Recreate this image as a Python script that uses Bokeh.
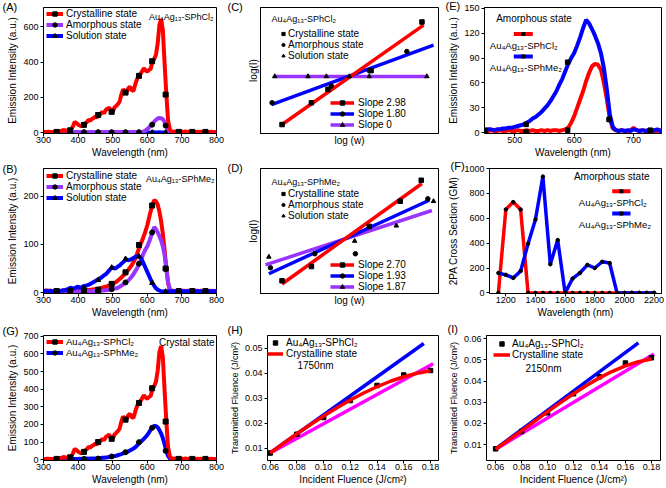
from bokeh.plotting import figure
from bokeh.models import (Range1d, Legend, LegendItem, Label, BoxAnnotation,
                          FixedTicker, PrintfTickFormatter)
from bokeh.layouts import column, row
from bokeh.embed import file_html
from bokeh.resources import INLINE

FONT = "Liberation Sans"
RED = "#ff0000"
BLUE = "#0000ff"
PURPLE = "#9933ff"
MAGENTA = "#ff00ff"
CL = "Au\u2084Ag\u2081\u2083-SPhCl\u2082"
ME = "Au\u2084Ag\u2081\u2083-SPhMe\u2082"

# ---------------- emission spectra (300-800 nm, 5 nm sampling) ----------------
WL = list(range(300, 805, 5))
A_CRY = [3, 4, 3, 5, 4, 3, 4, 5, 6, 8, 9, 12,
         15, 10, 12, 14, 18, 35, 60, 55,
         45, 40, 36, 46, 52, 58, 72, 68, 78, 82,
         92, 86, 102, 106, 118, 110, 128, 136, 142, 122,
         118, 142, 152, 162, 176, 216, 246, 232, 228, 252,
         260, 242, 236, 272, 302, 322, 332, 348, 366, 352,
         346, 356, 362, 405, 418, 442, 505, 612, 645, 580,
         392, 218, 70, 20, 7, 5, 6, 4, 5, 4,
         5, 4, 6, 4, 5, 4, 3, 5, 4, 5,
         4, 5, 4, 3, 5, 4, 4, 5, 3, 4, 4]
A_AMOR = [2, 3, 2, 2, 3, 2, 2, 3, 2, 2, 3, 2, 2, 3, 2, 2, 3, 2, 2, 3,
          2, 2, 3, 2, 2, 3, 2, 2, 3, 2, 2, 2, 3, 2, 2, 3, 2, 2, 3, 2,
          2, 3, 2, 2, 3, 2, 3, 2, 2, 3, 2, 3, 2, 3, 3, 2,
          3, 4, 6, 12, 20, 30, 40, 50, 62, 72,
          80, 83, 82, 76, 60, 40, 17, 5, 3, 2,
          3, 2, 2, 3, 6, 3, 2, 3, 2, 2, 3, 2, 2, 3, 2, 2, 3, 2, 2, 3, 2, 2, 3, 2, 2]
A_SOL = [1, 2, 1, 1, 2, 1, 1, 1, 2, 1, 1, 2, 1, 1, 1, 2, 1, 1, 2, 1,
         1, 1, 2, 1, 1, 2, 1, 1, 1, 2, 1, 1, 2, 1, 1, 1, 2, 1, 1, 2,
         1, 1, 1, 2, 1, 1, 2, 1, 1, 1, 2, 1, 1, 2, 1, 1, 1, 2, 1, 1,
         2, 1, 1, 1, 2, 1, 1, 2, 1, 1, 1, 2, 1, 1, 2, 1, 1, 1, 2, 1,
         1, 2, 1, 1, 1, 2, 1, 1, 2, 1, 1, 1, 2, 1, 1, 2, 1, 1, 1, 2, 1]
B_CRY = [4, 3, 5, 3, 4, 3, 4, 5, 3, 4, 3, 4, 5, 3, 4, 4, 3, 5, 4, 3,
         4, 5, 4, 5, 5, 6, 5, 6, 6, 7, 6, 7, 8, 9, 10, 11, 12, 13, 15, 16,
         18, 20, 22, 25, 28, 31, 35, 38, 42, 47, 52, 57, 63, 70, 80, 90, 100, 108, 118, 128,
         140, 155, 170, 182, 192, 190, 183, 168, 148, 122, 88, 50, 20, 7, 3, 4, 3, 4, 3, 4,
         3, 4, 3, 4, 3, 5, 3, 4, 3, 4, 3, 4, 3, 4, 5, 3, 4, 3, 4, 3, 4]
B_AMOR = [3, 2, 3, 2, 3, 2, 3, 3, 2, 3, 2, 3, 2, 3, 3, 2, 3, 2, 3, 2,
          2, 3, 2, 3, 2, 3, 3, 2, 3, 3, 3, 4, 4, 3, 4, 4, 5, 5, 6, 6,
          7, 8, 9, 10, 12, 14, 17, 19, 22, 25, 29, 33, 38, 44, 50, 58, 65, 74, 83, 90,
          96, 105, 115, 126, 136, 132, 125, 117, 108, 96, 78, 52, 22, 7, 3, 2, 3, 2, 3, 2,
          4, 3, 2, 3, 2, 3, 2, 3, 4, 2, 3, 2, 3, 2, 3, 2, 3, 2, 3, 3, 2]
B_SOL = [3, 4, 3, 2, 4, 3, 2, 3, 3, 4, 3, 5, 4, 6, 7, 9, 10, 8, 9, 11,
         12, 10, 11, 13, 14, 15, 16, 18, 20, 22, 24, 26, 28, 30, 33, 36, 38, 42, 46, 50,
         52, 50, 51, 54, 56, 60, 63, 66, 69, 67, 68, 70, 72, 74, 75, 76, 73, 67, 59, 51,
         43, 35, 27, 20, 14, 9, 6, 4, 3, 2, 3, 2, 3, 2, 3, 2, 3, 2, 3, 2,
         3, 2, 3, 2, 3, 2, 3, 4, 2, 3, 2, 3, 2, 3, 2, 3, 2, 3, 2, 3, 2]

# symbols drawn on the spectra
MK = [338, 377, 417, 458, 497, 537, 576, 614, 653, 691, 730, 768]
A_CRY_MK = [4, 13, 44, 100, 118, 227, 322, 405, 216, 4, 4, 4]
A_AMOR_MK = [2, 2, 2, 2, 2, 2, 2, 45, 40, 2, 2, 2]
A_SOL_MK = [1, 1, 1, 1, 1, 1, 1, 1, 1, 1, 1, 1]
B_CRY_MK = [3, 3, 4, 6, 18, 42, 99, 181, 50, 3, 3, 3]
B_AMOR_MK = [2, 2, 2, 3, 7, 21, 60, 125, 49, 2, 2, 2]
B_SOL_MK = [3, 5, 10, 26, 52, 70, 75, 20, 2, 2, 2, 2]
E_MK = [450, 519, 589, 659, 728]
E_CL_MK = [2, 1, 3, 16, 2]
E_ME_MK = [3, 10, 85, 16, 3]

# ---------------- log-log power dependence (arbitrary units) ----------------
C_CRY_X = [1.21, 2.86, 3.79, 6.21, 9.07]
C_CRY_Y = [0.71, 2.44, 3.51, 4.99, 8.85]
C_CRY_FX = [1.21, 9.16]
C_CRY_FY = [0.71, 8.60]
C_AMO_X = [0.65, 3.98, 6.11, 8.22]
C_AMO_Y = [2.44, 3.77, 4.99, 6.51]
C_AMO_FX = [0.62, 9.72]
C_AMO_FY = [2.29, 7.02]
C_SOL_X = [0.80, 2.67, 3.70, 4.99, 6.11, 9.35]
C_SOL_Y = [4.53, 4.53, 4.53, 4.53, 4.53, 4.53]
C_SOL_FX = [0.80, 9.35]
C_SOL_FY = [4.53, 4.53]
C_SLOPES = ["Slope 2.98", "Slope 1.80", "Slope 0"]

D_CRY_X = [1.21, 2.86, 6.11, 7.85, 9.03]
D_CRY_Y = [1.02, 2.16, 5.37, 7.38, 9.06]
D_CRY_FX = [1.21, 9.07]
D_CRY_FY = [0.76, 8.80]
D_AMO_X = [0.56, 3.05, 5.33, 7.81, 9.40]
D_AMO_Y = [2.06, 3.18, 3.18, 7.38, 7.58]
D_AMO_FX = [0.47, 9.48]
D_AMO_FY = [1.58, 7.46]
D_SOL_X = [0.47, 5.29, 7.63, 9.72]
D_SOL_Y = [2.93, 4.20, 5.42, 7.38]
D_SOL_FX = [0.28, 9.63]
D_SOL_FY = [2.29, 6.64]
D_SLOPES = ["Slope 2.70", "Slope 1.93", "Slope 1.87"]

# ---------------- 2PA cross sections ----------------
F_X = [1150, 1200, 1250, 1300, 1350, 1400, 1450, 1500, 1550, 1600, 1650,
       1700, 1750, 1800, 1850, 1900, 1950, 2000, 2050, 2100, 2150, 2200]
F_CL = [0, 670, 730, 670, 0, 0, 0, 0, 0, 0, 0, 0, 0, 0, 0, 0, 0, 0, 0, 0, 0, 0]
F_ME = [160, 145, 120, 175, 395, 590, 935, 230, 425, 0, 115,
        160, 225, 200, 250, 240, 0, 0, 0, 0, 0, 0]

# ---------------- optical limiting ----------------
OL_X = [0.06, 0.08, 0.10, 0.12, 0.14, 0.16, 0.18]
FIT_X = [0.06, 0.07, 0.08, 0.09, 0.10, 0.11, 0.12, 0.13, 0.14, 0.15, 0.16, 0.17, 0.18]
H_Y = [0.0080, 0.0155, 0.0222, 0.0290, 0.0350, 0.0392, 0.0410]
H_FIT = [0.0080, 0.0119, 0.0157, 0.0193, 0.0228, 0.0261, 0.0292, 0.0320, 0.0345,
         0.0367, 0.0385, 0.0399, 0.0409]
H_LIN_X = [0.06, 0.175]
H_LIN_Y = [0.008, 0.0518]
H_REF_X = [0.06, 0.182]
H_REF_Y = [0.008, 0.0437]
I_Y = [0.0080, 0.0162, 0.0250, 0.0340, 0.0420, 0.0485, 0.0510]
I_FIT = [0.0078, 0.0122, 0.0165, 0.0210, 0.0255, 0.0298, 0.0340, 0.0379, 0.0415,
         0.0446, 0.0472, 0.0491, 0.0504]
I_LIN_X = [0.06, 0.17]
I_LIN_Y = [0.008, 0.058]
I_REF_X = [0.06, 0.182]
I_REF_Y = [0.0078, 0.0528]

WL_TICKS = [300, 400, 500, 600, 700, 800]
FL_TICKS = [0.06, 0.08, 0.10, 0.12, 0.14, 0.16, 0.18]

ROW_H = 11.5
FRAME = {}


def base(w, h, xr, yr, bl, br, bt, bb, xlabel, ylabel, xticks, yticks, fmt=None,
         ylab_size="10px"):
    p = figure(width=w, height=h, x_range=Range1d(*xr), y_range=Range1d(*yr),
               output_backend="svg", toolbar_location=None,
               min_border_left=bl, min_border_right=br,
               min_border_top=bt, min_border_bottom=bb)
    p.grid.visible = False
    p.outline_line_color = "black"
    p.outline_line_alpha = 1.0
    p.outline_line_width = 1
    p.background_fill_color = "white"
    p.border_fill_color = "white"
    p.xaxis.axis_label = xlabel
    p.yaxis.axis_label = ylabel
    for ax in (p.xaxis[0], p.yaxis[0]):
        ax.axis_line_color = "black"
        ax.major_tick_line_color = "black"
        ax.major_tick_out = 3 if (xticks or yticks) else 0
        ax.major_tick_in = 0
        ax.minor_tick_line_color = None
        ax.major_label_text_font = FONT
        ax.major_label_text_font_size = "9px"
        ax.major_label_text_color = "black"
        ax.axis_label_text_font = FONT
        ax.axis_label_text_font_size = "10px"
        ax.axis_label_text_font_style = "normal"
        ax.axis_label_text_color = "black"
    p.yaxis.axis_label_text_font_size = ylab_size
    p.xaxis.major_label_standoff = 0
    p.xaxis.axis_label_standoff = 1
    p.yaxis.major_label_standoff = 2
    p.yaxis.axis_label_standoff = 2
    p.xaxis.ticker = FixedTicker(ticks=xticks)
    p.yaxis.ticker = FixedTicker(ticks=yticks)
    if fmt:
        p.xaxis.formatter = PrintfTickFormatter(format=fmt)
        p.yaxis.formatter = PrintfTickFormatter(format=fmt)
    FRAME[p.id] = (w - bl - br, h - bt - bb)
    return p


def tag(p, text, dx, gap):
    # panel letter, drawn through the (otherwise empty) title slot;
    # its top sits about `gap` px above the frame
    t = p.title
    t.text = text
    t.align = "left"
    t.offset = dx
    t.vertical_align = "bottom"
    t.standoff = -2 * (8.6 - gap)
    t.text_font = FONT
    t.text_font_size = "11px"
    t.text_font_style = "normal"
    t.text_color = "black"


def note(p, text, side, dx, dy, align="left", size="10px"):
    x = p.x_range.start if side == "left" else p.x_range.end
    p.add_layout(Label(x=x, y=p.y_range.end, x_offset=dx, y_offset=dy, text=text,
                       text_font=FONT, text_font_size=size, text_baseline="middle",
                       text_align=align, text_color="black"))


def legend(p, items, left, top, glyph_w, standoff=3, size="10px"):
    vy = FRAME[p.id][1] - top - len(items) * ROW_H
    lg = Legend(items=[LegendItem(label=t, renderers=r) for t, r in items],
                location=(left, vy), border_line_color=None, background_fill_alpha=0,
                label_text_font=FONT, label_text_font_size=size, label_text_color="black",
                glyph_width=glyph_w, glyph_height=11, label_height=11,
                label_standoff=standoff, spacing=0, padding=0, margin=0)
    p.add_layout(lg)


def swatch(p, x0, x1, top, color):
    yc = FRAME[p.id][1] - top
    p.add_layout(BoxAnnotation(left=x0, right=x1, bottom=yc - 2, top=yc + 2,
                               left_units="screen", right_units="screen",
                               bottom_units="screen", top_units="screen",
                               fill_color=color, fill_alpha=1, line_color=None))
    xc = (x0 + x1) / 2
    p.add_layout(BoxAnnotation(left=xc - 2, right=xc + 2, bottom=yc - 2, top=yc + 2,
                               left_units="screen", right_units="screen",
                               bottom_units="screen", top_units="screen",
                               fill_color="black", fill_alpha=1, line_color=None))


LW = 4
SUB = "9px"

# ---------------- (A) ----------------
pA = base(225, 160, (300, 800), (-5, 710), 43, 9, 5, 26, "Wavelength (nm)",
          "Emission Intensity (a.u.)", WL_TICKS, [0, 200, 400, 600])
rA3 = pA.line(WL, A_SOL, color=BLUE, line_width=LW)
rA2 = pA.line(WL, A_AMOR, color=PURPLE, line_width=LW)
rA1 = pA.line(WL, A_CRY, color=RED, line_width=LW)
mA3 = pA.scatter(MK, A_SOL_MK, marker="triangle", size=5, color="black")
mA2 = pA.scatter(MK, A_AMOR_MK, marker="circle", size=5, color="black")
mA1 = pA.scatter(MK, A_CRY_MK, marker="square", size=5, color="black")
legend(pA, [("Crystalline state", [rA1, mA1]), ("Amorphous state", [rA2, mA2]),
            ("Solution state", [rA3, mA3])], 3, 2.5, 17)
tag(pA, "(A)", -41, 3)
note(pA, CL, "right", -3, -9, align="right", size=SUB)

# ---------------- (B) ----------------
pB = base(225, 160, (300, 800), (-2, 258), 43, 9, 5, 26, "Wavelength (nm)",
          "Emission Intensity (a.u.)", WL_TICKS, [0, 100, 200])
rB1 = pB.line(WL, B_CRY, color=RED, line_width=LW)
rB2 = pB.line(WL, B_AMOR, color=PURPLE, line_width=LW)
rB3 = pB.line(WL, B_SOL, color=BLUE, line_width=LW)
mB1 = pB.scatter(MK, B_CRY_MK, marker="square", size=5, color="black")
mB2 = pB.scatter(MK, B_AMOR_MK, marker="circle", size=5, color="black")
mB3 = pB.scatter(MK, B_SOL_MK, marker="triangle", size=5, color="black")
legend(pB, [("Crystalline state", [rB1, mB1]), ("Amorphous state", [rB2, mB2]),
            ("Solution state", [rB3, mB3])], 3, 4, 17)
tag(pB, "(B)", -41, 2)
note(pB, ME, "right", -2, -10, align="right", size=SUB)

# ---------------- (G) ----------------
pG = base(225, 168, (300, 800), (-5, 705), 43, 9, 10, 28, "Wavelength (nm)",
          "Emission Intensity (a.u.)", WL_TICKS, [0, 100, 200, 300, 400, 500, 600, 700])
rG2 = pG.line(WL, B_CRY, color=BLUE, line_width=LW)
rG1 = pG.line(WL, A_CRY, color=RED, line_width=LW)
mG2 = pG.scatter(MK, B_CRY_MK, marker="circle", size=5, color="black")
mG1 = pG.scatter(MK, A_CRY_MK, marker="square", size=5, color="black")
legend(pG, [(CL, [rG1, mG1]), (ME, [rG2, mG2])], 3, 5, 17, size="9.5px")
tag(pG, "(G)", -41, 7)
note(pG, "Crystal state", "right", -2, -7, align="right")

# ---------------- (C) ----------------
pC = base(220, 160, (0, 10), (0, 10), 35, 7, 5, 26, "log (w)", "log(I)", [], [])
lC3 = pC.line(C_SOL_FX, C_SOL_FY, color=PURPLE, line_width=3.5)
lC2 = pC.line(C_AMO_FX, C_AMO_FY, color=BLUE, line_width=3.5)
lC1 = pC.line(C_CRY_FX, C_CRY_FY, color=RED, line_width=3.5)
sC1 = pC.scatter(C_CRY_X, C_CRY_Y, marker="square", size=4.5, color="black")
sC2 = pC.scatter(C_AMO_X, C_AMO_Y, marker="circle", size=4.5, color="black")
sC3 = pC.scatter(C_SOL_X, C_SOL_Y, marker="triangle", size=4.5, color="black")
legend(pC, [("Crystalline state", [sC1]), ("Amorphous state", [sC2]),
            ("Solution state", [sC3])], 19, 22.5, 8, standoff=1)
hC = FRAME[pC.id][1]
legend(pC, [(C_SLOPES[0], [lC1, sC1]), (C_SLOPES[1], [lC2, sC2]),
            (C_SLOPES[2], [lC3, sC3])], 70, hC - 3 - 3 * ROW_H, 24, standoff=4)
tag(pC, "(C)", -33, 3)
note(pC, CL, "left", 11, -11.5, size=SUB)

# ---------------- (D) ----------------
pD = base(220, 160, (0, 10), (0, 10), 35, 7, 5, 26, "log (w)", "log(I)", [], [])
lD3 = pD.line(D_SOL_FX, D_SOL_FY, color=PURPLE, line_width=3.5)
lD2 = pD.line(D_AMO_FX, D_AMO_FY, color=BLUE, line_width=3.5)
lD1 = pD.line(D_CRY_FX, D_CRY_FY, color=RED, line_width=3.5)
sD1 = pD.scatter(D_CRY_X, D_CRY_Y, marker="square", size=4.5, color="black")
sD2 = pD.scatter(D_AMO_X, D_AMO_Y, marker="circle", size=4.5, color="black")
sD3 = pD.scatter(D_SOL_X, D_SOL_Y, marker="triangle", size=4.5, color="black")
legend(pD, [("Crystalline state", [sD1]), ("Amorphous state", [sD2]),
            ("Solution state", [sD3])], 19, 22.5, 8, standoff=1)
hD = FRAME[pD.id][1]
legend(pD, [(D_SLOPES[0], [lD1, sD1]), (D_SLOPES[1], [lD2, sD2]),
            (D_SLOPES[2], [lD3, sD3])], 70, hD - 1 - 3 * ROW_H, 24, standoff=4)
tag(pD, "(D)", -33, 3)
note(pD, ME, "left", 11, -13, size=SUB)

# ---------------- (H) ----------------
pH = base(220, 168, (0.058, 0.186), (0.005, 0.055), 42, 7, 13, 28,
          "Incident Fluence (J/cm\u00b2)", "Transmitted Fluence (J/cm\u00b2)",
          FL_TICKS, [0.01, 0.02, 0.03, 0.04, 0.05], fmt="%.2f", ylab_size="9px")
pH.line(H_LIN_X, H_LIN_Y, color=BLUE, line_width=3.5)
pH.line(H_REF_X, H_REF_Y, color=MAGENTA, line_width=3.5)
sH = pH.scatter(OL_X, H_Y, marker="square", size=4.5, color="black")
fH = pH.line(FIT_X, H_FIT, color=RED, line_width=3.5)
legend(pH, [(CL, [sH]), ("Crystalline state", [fH])], 0, 2.9, 16)
note(pH, "1750nm", "left", 48, -30, align="center")
tag(pH, "(H)", -40, 8.5)

# ---------------- (E) ----------------
pE = base(221, 160, (449, 747), (-1, 151), 39, 5, 7, 26, "Wavelength (nm)",
          "Emission Intensity (a.u.)", [500, 600, 700], [0, 30, 60, 90, 120, 150])
pE.line(WL, A_AMOR, color=RED, line_width=LW)
pE.line(WL, B_AMOR, color=BLUE, line_width=LW)
pE.scatter(E_MK, E_CL_MK, marker="square", size=4.5, color="black")
pE.scatter(E_MK, E_ME_MK, marker="square", size=4.5, color="black")
swatch(pE, 29.3, 48.3, 27.6, RED)
swatch(pE, 29.3, 48.3, 50, BLUE)
note(pE, "Amorphous state", "left", 11.7, -10.6)
note(pE, CL, "left", 5.3, -37.6, size="9.5px")
note(pE, ME, "left", 5.3, -60, size="9.5px")
tag(pE, "(E)", -39, 4)

# ---------------- (F) ----------------
pF = base(221, 160, (1090, 2250), (-5, 1000), 39, 5, 8, 26, "Wavelength (nm)",
          "2PA Cross Section (GM)", [1200, 1400, 1600, 1800, 2000, 2200],
          [0, 200, 400, 600, 800, 1000])
pF.line(F_X, F_CL, color=RED, line_width=3.5)
pF.line(F_X, F_ME, color=BLUE, line_width=3.5)
pF.scatter(F_X, F_CL, marker="circle", size=3.5, color="black")
pF.scatter(F_X, F_ME, marker="circle", size=3.5, color="black")
fw = FRAME[pF.id][0]
swatch(pF, fw - 54.3, fw - 36, 23.7, RED)
swatch(pF, fw - 54.3, fw - 36, 46, BLUE)
note(pF, "Amorphous state", "right", -12, -8, align="right")
note(pF, CL, "right", -82.7, -33.7, size="9.5px")
note(pF, ME, "right", -82.7, -56, size="9.5px")
tag(pF, "(F)", -39, 5)

# ---------------- (I) ----------------
pI = base(221, 168, (0.053, 0.187), (0.0025, 0.0615), 39, 6, 14, 28,
          "Incident Fluence (J/cm\u00b2)", "Transmitted Fluence (J/cm\u00b2)",
          FL_TICKS, [0.01, 0.02, 0.03, 0.04, 0.05, 0.06], fmt="%.2f", ylab_size="9px")
pI.line(I_LIN_X, I_LIN_Y, color=BLUE, line_width=3.5)
pI.line(I_REF_X, I_REF_Y, color=MAGENTA, line_width=3.5)
sI = pI.scatter(OL_X, I_Y, marker="square", size=4.5, color="black")
fI = pI.line(FIT_X, I_FIT, color=RED, line_width=3.5)
legend(pI, [(CL, [sI]), ("Crystalline state", [fI])], 7, 2.5, 17, standoff=2)
note(pI, "2150nm", "left", 57, -32.7, align="center")
tag(pI, "(I)", -39, 9)

layout = column(row(pA, pC, pE), row(pB, pD, pF), row(pG, pH, pI))
open("out.html", "w").write(file_html(layout, INLINE))
